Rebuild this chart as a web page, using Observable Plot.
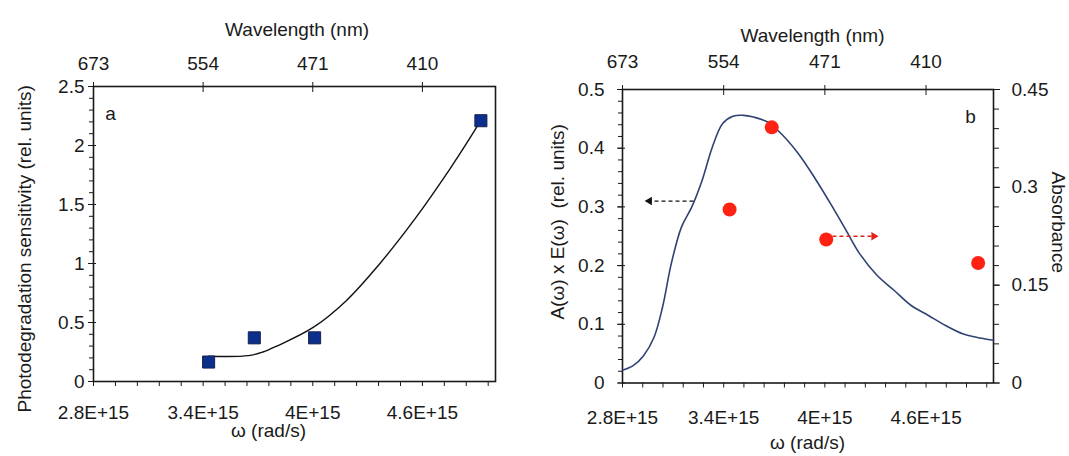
<!DOCTYPE html>
<html><head><meta charset="utf-8">
<script src="https://cdn.jsdelivr.net/npm/d3@7"></script>
<script src="https://cdn.jsdelivr.net/npm/@observablehq/plot@0.6"></script>
<style>
body{margin:0;background:#fff;}
#wrap{position:relative;width:1069px;height:456px;overflow:hidden;}
#wrap svg{position:absolute;top:0;}
#wrap svg text{font-size:19px;}
</style></head><body><div id="wrap"></div>
<script>
// ---- shared axis ticks ----
const omegaTicks = [2.8e15, 3.4e15, 4.0e15, 4.6e15];
const omegaTickLabels = ["2.8E+15", "3.4E+15", "4E+15", "4.6E+15"];
const wavelengthTickLabels = ["673", "554", "471", "410"];
const omegaDomain = [2.8e15, 5.0e15];

// ---- panel a : photodegradation sensitivity ----
const sensOmega = [3.43e15, 3.68e15, 4.01e15, 4.92e15];
const sensValue = [0.165, 0.37, 0.37, 2.21];
const fitOmega = [3.43e15, 3.648e15, 3.727e15, 3.803e15, 4.0e15, 4.182e15, 4.362e15, 4.56e15, 4.75e15, 4.863e15, 4.91e15];
const fitValue = [0.214, 0.219, 0.25, 0.30, 0.456, 0.683, 0.99, 1.38, 1.80, 2.07, 2.19];
const sensTicks = [0, 0.5, 1, 1.5, 2, 2.5];
const sensTickLabels = ["0", "0.5", "1", "1.5", "2", "2.5"];

// ---- panel b : A(w) x E(w) and absorbance ----
const aeOmega = [2.8e15, 2.865e15, 2.926e15, 2.987e15, 3.038e15, 3.089e15, 3.15e15, 3.211e15, 3.272e15, 3.333e15, 3.394e15, 3.455e15, 3.516e15, 3.577e15, 3.658e15, 3.74e15, 3.842e15, 3.943e15, 4.045e15, 4.126e15, 4.207e15, 4.309e15, 4.41e15, 4.512e15, 4.614e15, 4.716e15, 4.817e15, 4.898e15, 5.0e15];
const aeValue = [0.0216, 0.030, 0.047, 0.078, 0.13, 0.203, 0.266, 0.30, 0.345, 0.402, 0.442, 0.4545, 0.456, 0.453, 0.445, 0.425, 0.391, 0.348, 0.30, 0.26, 0.22, 0.1835, 0.158, 0.132, 0.115, 0.098, 0.084, 0.078, 0.0727];
const absOmega = [3.435e15, 3.685e15, 4.008e15, 4.909e15];
const absValue = [0.266, 0.392, 0.22, 0.184];
const aeTicks = [0, 0.1, 0.2, 0.3, 0.4, 0.5];
const aeTickLabels = ["0", "0.1", "0.2", "0.3", "0.4", "0.5"];
const absTicks = [0, 0.15, 0.3, 0.45];
const absTickLabels = ["0", "0.15", "0.3", "0.45"];
// arrows (which axis each series belongs to)
const arrowStart = [3.221e15, 4.045e15];
const arrowEnd = [2.96e15, 4.29e15];
const arrowLevel = [0.31, 0.25];
const arrowColor = ["#111111", "#e0231a"];
const arrowDir = [-90, 90];

const leftMax = 0.5, rightMax = 0.45, k = leftMax / rightMax;
const font = "'Liberation Sans', Arial, sans-serif";
const ink = "#1a1a1a";
const H = 456;

const fmtOmega = d => omegaTickLabels[omegaTicks.indexOf(d)];
const fmtWave = d => wavelengthTickLabels[omegaTicks.indexOf(d)];
const xMinor = d3.range(0, 19).map(i => 2.8e15 + i * 0.12e15);

// ================= panel a =================
const dataA = sensOmega.map((x, i) => ({x, y: sensValue[i]}));
const fitA = fitOmega.map((x, i) => ({x, y: fitValue[i]}));
const yMinorA = d3.range(0, 26).map(i => i * 0.1);

const plotA = Plot.plot({
  width: 535, height: H,
  marginLeft: 93, marginRight: 40, marginTop: 86, marginBottom: 75,
  style: {fontFamily: font, fontSize: "19px", color: ink, background: "transparent"},
  x: {domain: omegaDomain},
  y: {domain: [0, 2.5]},
  marks: [
    Plot.axisX(xMinor, {anchor: "bottom", tickSize: 5, tickFormat: () => "", label: null, stroke: ink}),
    Plot.axisX(omegaTicks, {anchor: "bottom", tickSize: 0, tickPadding: 24, tickFormat: fmtOmega, label: null}),
    Plot.axisX(omegaTicks, {anchor: "top", tickSize: 5, tickPadding: 12, tickFormat: fmtWave, label: null, stroke: ink}),
    Plot.axisX(omegaTicks, {anchor: "top", tickSize: -5, tickFormat: () => "", label: null, stroke: ink}),
    Plot.axisY(yMinorA, {anchor: "left", tickSize: 4, tickFormat: () => "", label: null, stroke: ink}),
    Plot.axisY(sensTicks, {anchor: "left", tickSize: 5, tickPadding: 4, tickFormat: d => sensTickLabels[sensTicks.indexOf(d)], label: null, stroke: ink}),
    Plot.axisY(sensTicks, {anchor: "left", tickSize: -3, tickFormat: () => "", label: null, stroke: ink}),
    Plot.frame({stroke: ink, strokeWidth: 1.6}),
    Plot.line(fitA, {x: "x", y: "y", curve: "catmull-rom", stroke: "#111", strokeWidth: 1.4}),
    Plot.dot(dataA, {x: "x", y: "y", symbol: "square", r: 6.8, fill: "#0c2f8c", stroke: "#17224f", strokeWidth: 1}),
    Plot.text(["a"], {frameAnchor: "top-left", textAnchor: "middle", dx: 17, dy: 19.5, fill: ink}),
    Plot.text(["Wavelength (nm)"], {frameAnchor: "top", textAnchor: "middle", dx: 2.6, dy: -64.5, fill: ink}),
    Plot.text(["ω (rad/s)"], {frameAnchor: "bottom", textAnchor: "middle", dx: -26, dy: 55, fill: ink}),
    Plot.text(["Photodegradation sensitivity (rel. units)"], {frameAnchor: "left", textAnchor: "middle", rotate: -90, dx: -68.3, dy: 14.8, fill: ink})
  ]
});
plotA.style.left = "0px";
document.getElementById("wrap").appendChild(plotA);

// ================= panel b =================
const curveB = aeOmega.map((x, i) => ({x, y: aeValue[i]}));
const dotsB = absOmega.map((x, i) => ({x, y: absValue[i] * k}));
const arrows = arrowStart.map((x1, i) => ({x1, x2: arrowEnd[i], y: arrowLevel[i], c: arrowColor[i], r: arrowDir[i]}));
const yMinorB = d3.range(0, 26).map(i => i * 0.02);
const absMinor = d3.range(0, 16).map(i => i * 0.03 * k);
const absTickPos = absTicks.map(v => v * k);

const plotB = Plot.plot({
  width: 534, height: H,
  marginLeft: 87, marginRight: 76, marginTop: 89, marginBottom: 73.5,
  style: {fontFamily: font, fontSize: "19px", color: ink, background: "transparent"},
  x: {domain: omegaDomain},
  y: {domain: [0, leftMax]},
  marks: [
    Plot.axisX(xMinor, {anchor: "bottom", tickSize: 5, tickFormat: () => "", label: null, stroke: ink}),
    Plot.axisX(omegaTicks, {anchor: "bottom", tickSize: 0, tickPadding: 27.5, tickFormat: fmtOmega, label: null}),
    Plot.axisX(omegaTicks, {anchor: "top", tickSize: 5, tickPadding: 17, tickFormat: fmtWave, label: null, stroke: ink}),
    Plot.axisX(omegaTicks, {anchor: "top", tickSize: -5, tickFormat: () => "", label: null, stroke: ink}),
    Plot.axisY(yMinorB, {anchor: "left", tickSize: 4, tickFormat: () => "", label: null, stroke: ink}),
    Plot.axisY(aeTicks, {anchor: "left", tickSize: 5, tickPadding: 13, tickFormat: d => aeTickLabels[aeTicks.indexOf(d)], label: null, stroke: ink}),
    Plot.axisY(aeTicks, {anchor: "left", tickSize: -3, tickFormat: () => "", label: null, stroke: ink}),
    Plot.axisY(absMinor, {anchor: "right", tickSize: 5, tickFormat: () => "", label: null, stroke: ink}),
    Plot.axisY(absTickPos, {anchor: "right", tickSize: 6, tickPadding: 12, tickFormat: d => absTickLabels[absTickPos.indexOf(d)], label: null, stroke: ink}),
    Plot.frame({stroke: ink, strokeWidth: 1.6}),
    Plot.line(curveB, {x: "x", y: "y", curve: "catmull-rom", stroke: "#2f4272", strokeWidth: 1.6}),
    Plot.link(arrows, {x1: "x1", x2: "x2", y1: "y", y2: "y", stroke: "c", strokeDasharray: "4,3", strokeWidth: 1.3}),
    Plot.dot(arrows, {x: "x2", y: "y", symbol: "triangle2", r: 4, fill: "c", rotate: "r", stroke: null}),
    Plot.dot(dotsB, {x: "x", y: "y", r: 7, fill: "#ff2212"}),
    Plot.text(["b"], {frameAnchor: "top-right", textAnchor: "middle", dx: -23, dy: 20, fill: ink}),
    Plot.text(["Wavelength (nm)"], {frameAnchor: "top", textAnchor: "middle", dx: 4.5, dy: -61, fill: ink}),
    Plot.text(["ω (rad/s)"], {frameAnchor: "bottom", textAnchor: "middle", dx: -0.5, dy: 65.6, fill: ink}),
    Plot.text(["A(ω) x E(ω)  (rel. units)"], {frameAnchor: "left", textAnchor: "middle", rotate: -90, dx: -65, dy: -14.4, fill: ink}),
    Plot.text(["Absorbance"], {frameAnchor: "right", textAnchor: "middle", rotate: 90, dx: 64.7, dy: -14, fill: ink})
  ]
});
plotB.style.left = "535px";
document.getElementById("wrap").appendChild(plotB);
</script>
</body></html>
